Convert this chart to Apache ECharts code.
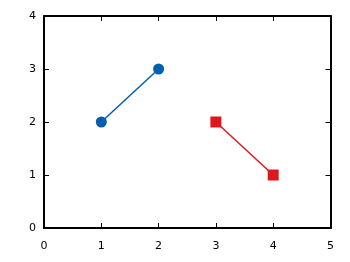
<!DOCTYPE html>
<html><head><meta charset="utf-8">
<script src="https://cdn.jsdelivr.net/npm/echarts@6/dist/echarts.min.js"></script>
<style>html,body{margin:0;padding:0;background:#fff}#c{width:350px;height:262px}</style>
</head><body><div id="c"></div>
<script>
const xTicks = [0, 1, 2, 3, 4, 5];
const yTicks = [0, 1, 2, 3, 4];
const blueX = [1, 2];
const blueY = [2, 3];
const redX = [3, 4];
const redY = [2, 1];

const chart = echarts.init(document.getElementById('c'), null, {renderer: 'canvas'});
function axis(pos, min, max, labels, margin) {
  return {
    type: 'value', position: pos, min: min, max: max, interval: 1,
    axisLine: {show: true, onZero: false, lineStyle: {color: '#000', width: 2}},
    axisTick: {show: true, inside: true, length: 5, lineStyle: {color: '#000', width: 1}},
    axisLabel: {show: labels, color: '#000', fontFamily: 'DejaVu Sans', fontSize: 11, margin: margin},
    splitLine: {show: false}
  };
}
chart.setOption({
  animation: false,
  backgroundColor: '#fff',
  grid: {left: 44, right: 19.5, top: 16, bottom: 34},
  xAxis: [axis('bottom', xTicks[0], xTicks[xTicks.length-1], true, 13), axis('top', xTicks[0], xTicks[xTicks.length-1], false, 8)],
  yAxis: [axis('left', yTicks[0], yTicks[yTicks.length-1], true, 8), axis('right', yTicks[0], yTicks[yTicks.length-1], false, 8)],
  series: [
    {type: 'line', data: blueX.map((x, i) => [x, blueY[i]]), symbol: 'circle', symbolSize: 11,
     itemStyle: {color: '#0060ad'}, lineStyle: {color: '#0060ad', width: 1.5}},
    {type: 'line', data: redX.map((x, i) => [x, redY[i]]), symbol: 'rect', symbolSize: 11,
     itemStyle: {color: '#dd181f'}, lineStyle: {color: '#dd181f', width: 1.5}}
  ]
});
</script></body></html>
